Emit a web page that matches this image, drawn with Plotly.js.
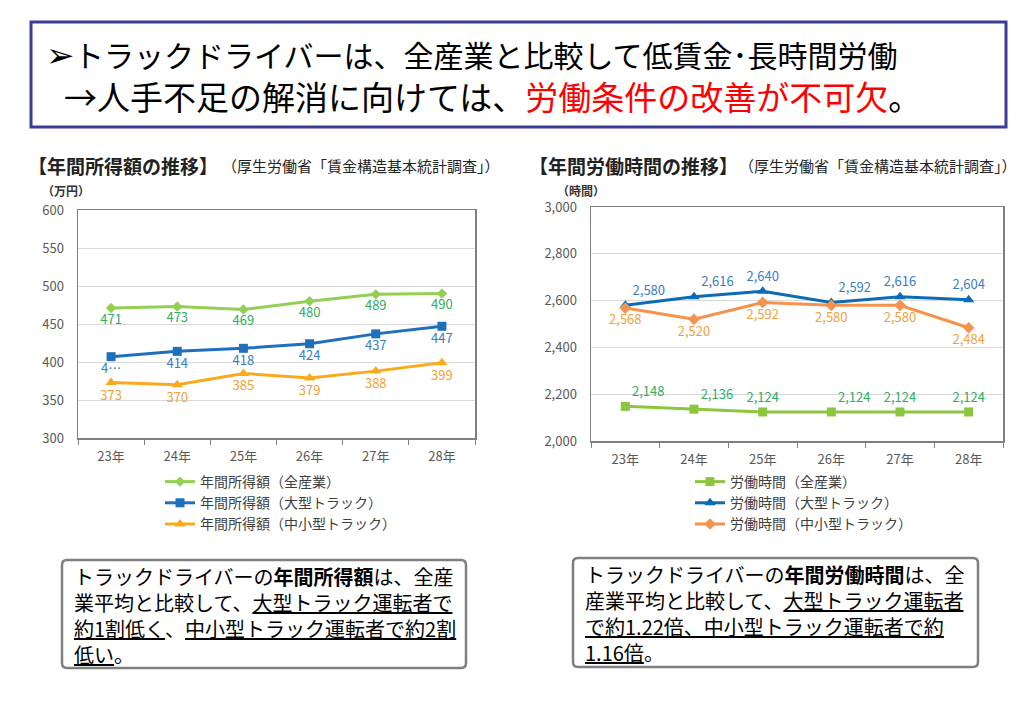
<!DOCTYPE html>
<html><head><meta charset="utf-8">
<script src="https://cdn.plot.ly/plotly-3.0.1.min.js"></script>
<style>html,body{margin:0;padding:0;background:#fff;}#chart{width:1024px;height:702px;}</style>
</head><body><div id="chart"></div>
<script>
// ---- data ----
const years = ["23年","24年","25年","26年","27年","28年"];
const incomeAll   = [471, 473, 469, 480, 489, 490];
const incomeLarge = [407, 414, 418, 424, 437, 447];
const incomeLargeLabels = ["4…", "414", "418", "424", "437", "447"];
const incomeSmall = [373, 370, 385, 379, 388, 399];
const hoursAll   = [2148, 2136, 2124, 2124, 2124, 2124];
const hoursLarge = [2580, 2616, 2640, 2592, 2616, 2604];
const hoursSmall = [2568, 2520, 2592, 2580, 2580, 2484];
const incomeNames = ["年間所得額（全産業）","年間所得額（大型トラック）","年間所得額（中小型トラック）"];
const hoursNames  = ["労働時間（全産業）","労働時間（大型トラック）","労働時間（中小型トラック）"];

// ---- helpers (pixel -> paper) ----
const W = 1024, H = 702;
const px = p => p / W;
const py = p => 1 - p / H;
function roundRect(x0, y0, x1, y1, r) {
  const X = v => px(v).toFixed(5), Y = v => py(v).toFixed(5);
  return `M${X(x0+r)},${Y(y0)} L${X(x1-r)},${Y(y0)} Q${X(x1)},${Y(y0)} ${X(x1)},${Y(y0+r)} ` +
         `L${X(x1)},${Y(y1-r)} Q${X(x1)},${Y(y1)} ${X(x1-r)},${Y(y1)} L${X(x0+r)},${Y(y1)} ` +
         `Q${X(x0)},${Y(y1)} ${X(x0)},${Y(y1-r)} L${X(x0)},${Y(y0+r)} Q${X(x0)},${Y(y0)} ${X(x0+r)},${Y(y0)} Z`;
}
const JP = '"Noto Sans CJK JP", "Noto Sans", sans-serif';
const labFont = (c) => ({family: JP, size: 13, color: c});
const rightTop = ['top right', 'top right', 'top center', 'top right', 'top center', 'top center'];

const traces = [
  {x: years, y: incomeAll, name: incomeNames[0], type: 'scatter', mode: 'lines+markers+text',
   line: {color: '#92cf52', width: 3}, marker: {symbol: 'diamond', size: 8, color: '#92cf52'},
   text: incomeAll.map(String), textposition: 'bottom center', textfont: labFont('#2fae5e'),
   xaxis: 'x', yaxis: 'y', legend: 'legend', cliponaxis: false},
  {x: years, y: incomeLarge, name: incomeNames[1], type: 'scatter', mode: 'lines+markers+text',
   line: {color: '#1f6fbd', width: 3}, marker: {symbol: 'square', size: 9, color: '#1f6fbd'},
   text: incomeLargeLabels, textposition: 'bottom center', textfont: labFont('#3a7dc4'),
   xaxis: 'x', yaxis: 'y', legend: 'legend', cliponaxis: false},
  {x: years, y: incomeSmall, name: incomeNames[2], type: 'scatter', mode: 'lines+markers+text',
   line: {color: '#f8aa1f', width: 3}, marker: {symbol: 'triangle-up', size: 10, color: '#f8aa1f'},
   text: incomeSmall.map(String), textposition: 'bottom center', textfont: labFont('#f0a238'),
   xaxis: 'x', yaxis: 'y', legend: 'legend', cliponaxis: false},
  {x: years, y: hoursAll, name: hoursNames[0], type: 'scatter', mode: 'lines+markers+text',
   line: {color: '#8cc63e', width: 3}, marker: {symbol: 'square', size: 9, color: '#8cc63e'},
   texttemplate: '%{y:,}', textposition: rightTop, textfont: labFont('#2fae5e'),
   xaxis: 'x2', yaxis: 'y2', legend: 'legend2', cliponaxis: false},
  {x: years, y: hoursLarge, name: hoursNames[1], type: 'scatter', mode: 'lines+markers+text',
   line: {color: '#0b6bb5', width: 3}, marker: {symbol: 'triangle-up', size: 10, color: '#0b6bb5'},
   texttemplate: '%{y:,}', textposition: rightTop, textfont: labFont('#3a7dc4'),
   xaxis: 'x2', yaxis: 'y2', legend: 'legend2', cliponaxis: false},
  {x: years, y: hoursSmall, name: hoursNames[2], type: 'scatter', mode: 'lines+markers+text',
   line: {color: '#f4934d', width: 3}, marker: {symbol: 'diamond', size: 9, color: '#f4934d'},
   texttemplate: '%{y:,}', textposition: 'bottom center', textfont: labFont('#f0a238'),
   xaxis: 'x2', yaxis: 'y2', legend: 'legend2', cliponaxis: false}
];

const tickFont = {family: JP, size: 13, color: '#595959'};
const xCommon = {type: 'category', range: [-0.5, 5.5], showgrid: false, showline: true, mirror: true,
  linecolor: '#808080', linewidth: 1.5, ticks: 'outside', tickson: 'boundaries', ticklen: 5,
  tickcolor: '#808080', tickfont: tickFont, ticklabelstandoff: 6, fixedrange: true, zeroline: false};
const yCommon = {showgrid: true, gridcolor: '#d9d9d9', gridwidth: 1, showline: true, mirror: true,
  linecolor: '#808080', linewidth: 1.5, ticks: '', tickfont: tickFont, ticklabelstandoff: 10,
  zeroline: false, fixedrange: true};

const legendFont = {family: JP, size: 14, color: '#404040'};
const layout = {
  width: W, height: H, margin: {l: 0, r: 0, t: 0, b: 0},
  paper_bgcolor: '#fff', plot_bgcolor: '#fff', showlegend: true,
  xaxis: Object.assign({}, xCommon, {domain: [px(78), px(475)], anchor: 'y'}),
  yaxis: Object.assign({}, yCommon, {domain: [py(438), py(210)], range: [300, 600], dtick: 50, anchor: 'x'}),
  xaxis2: Object.assign({}, xCommon, {domain: [px(591), px(1003)], anchor: 'y2'}),
  yaxis2: Object.assign({}, yCommon, {domain: [py(441), py(207)], range: [2000, 3000], dtick: 200,
    tickformat: ',', anchor: 'x2'}),
  legend: {x: px(160), y: py(466), xanchor: 'left', yanchor: 'top', font: legendFont,
    bgcolor: 'rgba(0,0,0,0)', itemwidth: 30, tracegroupgap: 0, traceorder: 'normal'},
  legend2: {x: px(690), y: py(466), xanchor: 'left', yanchor: 'top', font: legendFont,
    bgcolor: 'rgba(0,0,0,0)', itemwidth: 30, tracegroupgap: 0, traceorder: 'normal'},
  shapes: [
    {type: 'rect', xref: 'paper', yref: 'paper', x0: px(31), x1: px(1006), y0: py(127), y1: py(22),
     line: {color: '#3b3b98', width: 3}, fillcolor: 'rgba(0,0,0,0)'},
    {type: 'path', xref: 'paper', yref: 'paper', path: roundRect(62, 560, 466, 668, 5),
     line: {color: '#7f7f7f', width: 2.5}, fillcolor: 'rgba(0,0,0,0)'},
    {type: 'path', xref: 'paper', yref: 'paper', path: roundRect(573, 558, 978, 667, 5),
     line: {color: '#7f7f7f', width: 2.5}, fillcolor: 'rgba(0,0,0,0)'}
  ],
  annotations: [
    {text: '<span style="font-size:34px">➢</span>トラックドライバーは、全産業と比較して低賃金･長時間労働', x: px(44), y: py(52),
     xref: 'paper', yref: 'paper', xanchor: 'left', yanchor: 'middle', showarrow: false,
     font: {family: JP, size: 30, color: '#000'}},
    {text: '→人手不足の解消に向けては、<span style="color:#ff0000">労働条件の改善が不可欠</span>。',
     x: px(62), y: py(96), xref: 'paper', yref: 'paper', xanchor: 'left', yanchor: 'middle',
     showarrow: false, font: {family: JP, size: 33, color: '#000'}},
    {text: '<b>【年間所得額の推移】</b>', x: px(26), y: py(165), xref: 'paper', yref: 'paper',
     xanchor: 'left', yanchor: 'middle', showarrow: false, font: {family: JP, size: 19, color: '#222'}},
    {text: '（厚生労働省「賃金構造基本統計調査」）', x: px(220), y: py(166), xref: 'paper', yref: 'paper',
     xanchor: 'left', yanchor: 'middle', showarrow: false, font: {family: JP, size: 15, color: '#222'}},
    {text: '<b>【年間労働時間の推移】</b>', x: px(527), y: py(165), xref: 'paper', yref: 'paper',
     xanchor: 'left', yanchor: 'middle', showarrow: false, font: {family: JP, size: 19, color: '#222'}},
    {text: '（厚生労働省「賃金構造基本統計調査」）', x: px(737), y: py(166), xref: 'paper', yref: 'paper',
     xanchor: 'left', yanchor: 'middle', showarrow: false, font: {family: JP, size: 15, color: '#222'}},
    {text: '<b>（万円）</b>', x: px(40), y: py(190), xref: 'paper', yref: 'paper',
     xanchor: 'left', yanchor: 'middle', showarrow: false, font: {family: JP, size: 12, color: '#333'}},
    {text: '<b>（時間）</b>', x: px(555), y: py(190), xref: 'paper', yref: 'paper',
     xanchor: 'left', yanchor: 'middle', showarrow: false, font: {family: JP, size: 12, color: '#333'}},
    {text: 'トラックドライバーの<b>年間所得額</b>は、全産<br>業平均と比較して、<u>大型トラック運転者で</u><br>' +
           '<u>約1割低く</u>、<u>中小型トラック運転者で約2割</u><br><u>低い</u>。',
     x: px(72), y: py(615), xref: 'paper', yref: 'paper', xanchor: 'left', yanchor: 'middle',
     align: 'left', showarrow: false, font: {family: JP, size: 20, color: '#000'}},
    {text: 'トラックドライバーの<b>年間労働時間</b>は、全<br>産業平均と比較して、<u>大型トラック運転者</u><br>' +
           '<u>で約1.22倍、中小型トラック運転者で約</u><br><u>1.16倍</u>。',
     x: px(583), y: py(613), xref: 'paper', yref: 'paper', xanchor: 'left', yanchor: 'middle',
     align: 'left', showarrow: false, font: {family: JP, size: 20, color: '#000'}}
  ]
};

Plotly.newPlot('chart', traces, layout, {displayModeBar: false, staticPlot: true});
</script>
</body></html>
